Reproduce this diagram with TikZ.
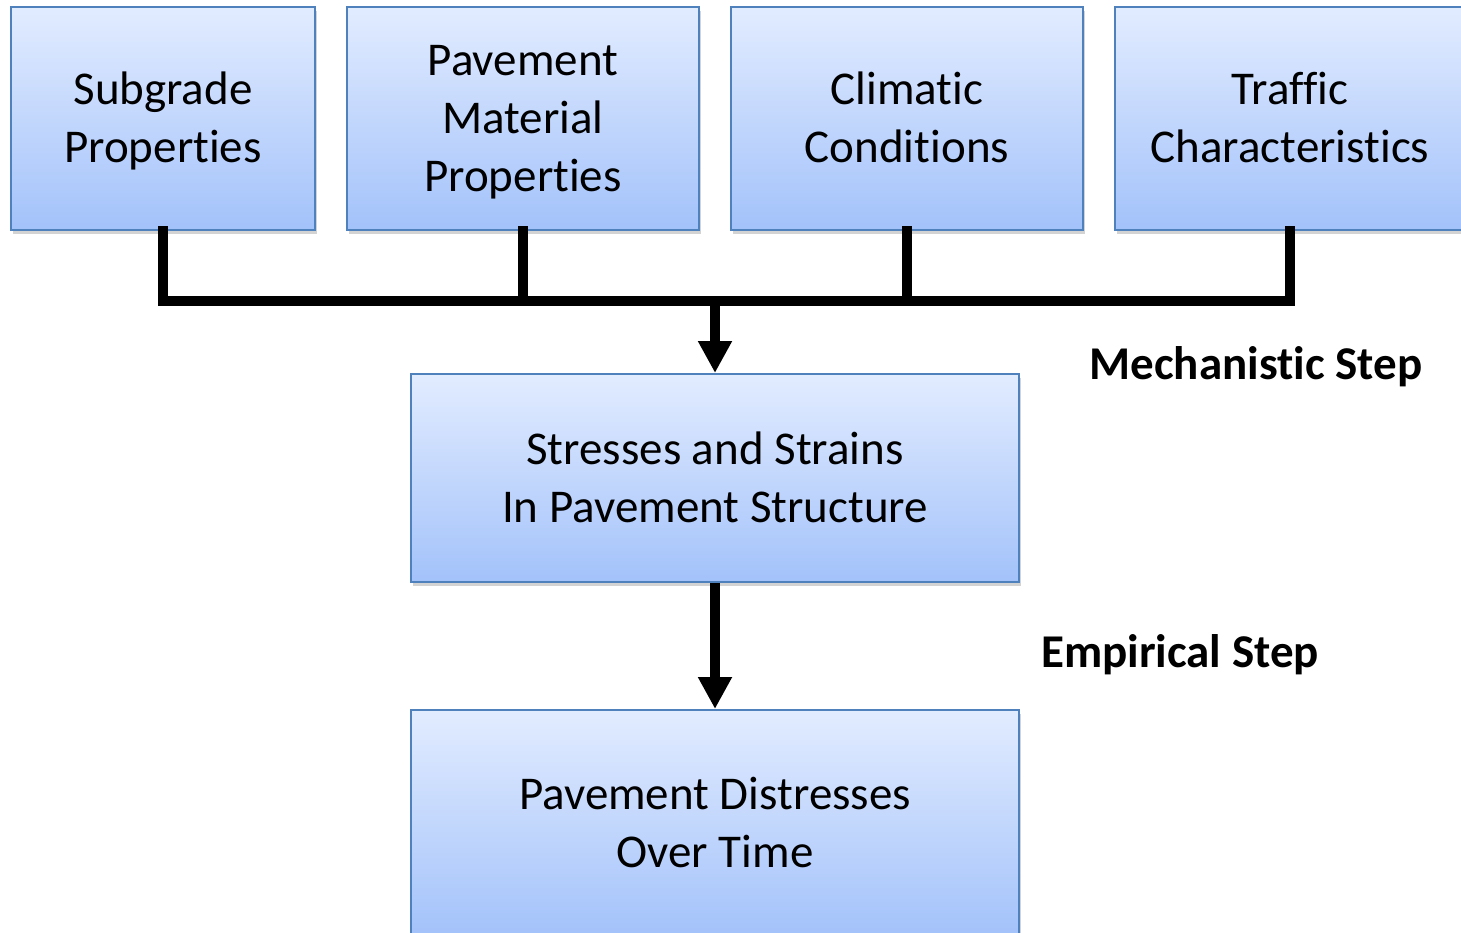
\documentclass[tikz,border=0pt]{standalone}
\usepackage{fontspec}
\setmainfont{Carlito}[Ligatures={NoCommon,NoContextual},Contextuals={NoAlternate}]
\usetikzlibrary{arrows.meta,shadows}
\definecolor{boxedge}{HTML}{4F81BD}
\definecolor{boxtop}{HTML}{E2ECFF}
\definecolor{boxbottom}{HTML}{A3C2FA}
% fixed line height/depth so every box centres its text the same way
\newcommand\linestrut{\rule[-13pt]{0pt}{57pt}}
\tikzset{
  factor/.style={draw=boxedge, line width=2pt, top color=boxtop, bottom color=boxbottom,
    align=center, inner sep=0pt, font=\fontsize{47}{58}\selectfont,
    drop shadow={opacity=0.35, shadow xshift=2pt, shadow yshift=-4pt}},
  conn/.style={line width=9.5pt, line join=miter, line cap=rect},
  flow/.style={line width=9.5pt, -{Triangle[width=32pt,length=32pt]}},
  steplabel/.style={font=\fontsize{47}{58}\selectfont\bfseries, inner sep=0pt}
}
\begin{document}
\begin{tikzpicture}[x=1pt,y=-1pt]
  \useasboundingbox (0,0) rectangle (1461,933);
  \clip (0,0) rectangle (1461,933);

  % input factors
  \node[factor, minimum width=304, minimum height=223] (sub) at (163,118.5)
    {\linestrut Subgrade\\Properties\linestrut};
  \node[factor, minimum width=352, minimum height=223] (mat) at (523,118.5)
    {\linestrut Pavement\\Material\\Properties\linestrut};
  \node[factor, minimum width=352, minimum height=223] (cli) at (907,118.5)
    {\linestrut Climatic\\Conditions\linestrut};
  \node[factor, minimum width=350, minimum height=223] (trf) at (1290,118.5)
    {\linestrut Traffic\\Characteristics\linestrut};

  % response and performance
  \node[factor, minimum width=608, minimum height=208] (str) at (715,478)
    {\linestrut Stresses and Strains\\In Pavement Structure\linestrut};
  \node[factor, minimum width=608, minimum height=226] (dis) at (715,823)
    {\linestrut Pavement Distresses\\Over Time\linestrut};

  % collector bar
  \coordinate (hub) at (715,301);
  \draw[conn] (sub.south) |- (hub) -| (trf.south);
  \draw[conn] (mat.south) -- (mat.south |- hub);
  \draw[conn] (cli.south) -- (cli.south |- hub);

  % arrows
  \draw[flow] (hub) -- (str.north);
  \draw[flow] (str.south) -- (dis.north);

  % step labels
  \node[steplabel] (mech) at (1256,367) {Mechanistic Step};
  \node[steplabel] (emp) at (1180,655) {Empirical Step};
\end{tikzpicture}
\end{document}
